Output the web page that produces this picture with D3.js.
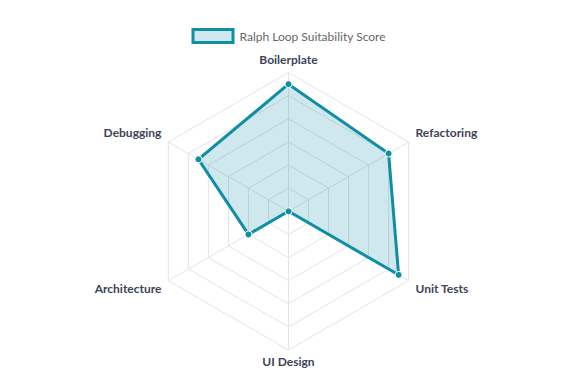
<html>
<script src="https://d3js.org/d3.v7.min.js"></script>
<style>
    body { margin: 0; background: #fff; font-family: 'Lato', sans-serif; }
</style>
<body>
<svg id="radar" width="579" height="387"></svg>
<script>
    // data
    const categories = ["Boilerplate", "Refactoring", "Unit Tests", "UI Design", "Architecture", "Debugging"];
    const scores = [9.5, 9, 9.5, 4, 6, 8.5];
    const tickValues = [4, 5, 6, 7, 8, 9, 10];
    const seriesName = "Ralph Loop Suitability Score";

    const svg = d3.select("svg#radar");
    const cx = 288.5, cy = 211.3, radius = 138.7;
    const lineColor = "#0f8ea6";

    const rScale = d3.scaleLinear()
        .domain([4, 10])
        .range([0, radius]);

    const angleScale = d3.scalePoint()
        .domain(categories)
        .range([0, 2 * Math.PI * (categories.length - 1) / categories.length]);

    function pos(cat, r) {
        let a = angleScale(cat) - Math.PI / 2;
        return [cx + r * Math.cos(a), cy + r * Math.sin(a)];
    }

    const grid = svg.append("g");

    // hexagon rings
    tickValues.slice(1).forEach(t => {
        let pts = categories.map(c => pos(c, rScale(t)));
        grid.append("polygon")
            .attr("points", pts.map(p => p.join(",")).join(" "))
            .attr("fill", "none")
            .attr("stroke", "#e4e4e4")
            .attr("stroke-width", 1);
    });

    // spokes
    categories.forEach(c => {
        let p = pos(c, rScale(10));
        grid.append("line")
            .attr("x1", cx).attr("y1", cy)
            .attr("x2", p[0]).attr("y2", p[1])
            .attr("stroke", "#e4e4e4")
            .attr("stroke-width", 1);
    });

    // data shape
    const dataPts = categories.map((c, i) => pos(c, rScale(scores[i])));
    svg.append("polygon")
        .attr("points", dataPts.map(p => p.join(",")).join(" "))
        .attr("fill", "rgba(15,142,166,0.2)")
        .attr("stroke", lineColor)
        .attr("stroke-width", 3)
        .attr("stroke-linejoin", "miter");

    svg.selectAll(".pt")
        .data(dataPts)
        .enter()
        .append("circle")
        .attr("class", "pt")
        .attr("cx", d => d[0])
        .attr("cy", d => d[1])
        .attr("r", 3.5)
        .attr("fill", lineColor)
        .attr("stroke", "#fff")
        .attr("stroke-width", 1);

    // point labels
    categories.forEach(c => {
        let p = pos(c, radius + 8);
        let dx = p[0] - cx, dy = p[1] - cy;
        let anchor = Math.abs(dx) < 1 ? "middle" : (dx > 0 ? "start" : "end");
        let yOff = dy < -1 ? -5 : 4;
        if (Math.abs(dx) < 1) yOff = dy < 0 ? -5 : 3;
        svg.append("text")
            .attr("x", p[0])
            .attr("y", p[1] + yOff)
            .attr("text-anchor", anchor)
            .attr("dominant-baseline", "central")
            .attr("font-size", 12)
            .attr("font-weight", 700)
            .attr("fill", "#3b4557")
            .text(c);
    });

    // legend
    const legend = svg.append("g");
    legend.append("rect")
        .attr("x", 193).attr("y", 29.5)
        .attr("width", 40).attr("height", 13)
        .attr("fill", "rgba(15,142,166,0.2)")
        .attr("stroke", lineColor)
        .attr("stroke-width", 3);
    legend.append("text")
        .attr("x", 239.5)
        .attr("y", 36)
        .attr("dominant-baseline", "central")
        .attr("font-size", 12)
        .attr("fill", "#666")
        .text(seriesName);
</script>
</body>
</html>
